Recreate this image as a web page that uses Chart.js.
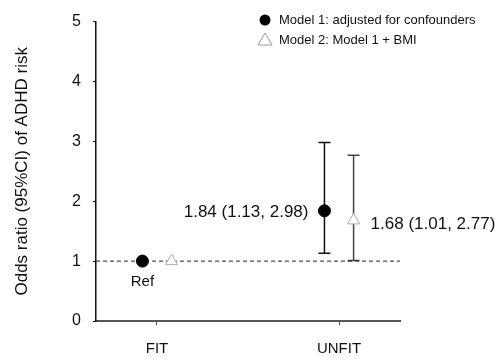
<!DOCTYPE html>
<html>
<head>
<meta charset="utf-8">
<script src="https://cdn.jsdelivr.net/npm/chart.js@4"></script>
<style>
  html, body { margin: 0; padding: 0; background: #fff; }
  #wrap { width: 499px; height: 364px; }
</style>
</head>
<body>
<div id="wrap"><canvas id="myChart"></canvas></div>
<script>
// Forest-style plot: odds ratios of ADHD risk by fitness group

const groups = ['FIT', 'UNFIT'];          // x-axis categories (at x = 1, 2)
const model1OR = [1, 1.84];               // Model 1 point estimates
const model1Low = [null, 1.13];           // Model 1 lower CI
const model1High = [null, 2.98];          // Model 1 upper CI
const model2OR = [1, 1.68];               // Model 2 point estimates
const model2Low = [null, 1.01];
const model2High = [null, 2.77];
const model1Text = ['Ref', '1.84 (1.13, 2.98)'];
const model2Text = ['', '1.68 (1.01, 2.77)'];
const yTicks = [0, 1, 2, 3, 4, 5];
const refValue = 1;

const xMin = 0.665, xMax = 2.335;         // room either side of the groups
const shift = 0.08;                       // dodge between the two models

const FONT = '"Liberation Sans", Arial, sans-serif';

const m1Points = groups.map((g, i) => ({ x: i + 1 - shift, y: model1OR[i] }));
const m2Points = groups.map((g, i) => ({ x: i + 1 + shift, y: model2OR[i] }));

// error bars + labels drawn with the chart's own scales
const errorBars = {
    id: 'errorBars',
    beforeDatasetsDraw(chart) {
        const { ctx, scales: { x, y } } = chart;
        const bars = [
            { pts: m1Points, lo: model1Low, hi: model1High, color: '#111' },
            { pts: m2Points, lo: model2Low, hi: model2High, color: '#444' }
        ];
        ctx.save();
        bars.forEach(b => {
            b.pts.forEach((p, i) => {
                if (b.lo[i] == null) return;
                const px = x.getPixelForValue(p.x);
                const yl = y.getPixelForValue(b.lo[i]);
                const yh = y.getPixelForValue(b.hi[i]);
                ctx.strokeStyle = b.color;
                ctx.lineWidth = 1.5;
                ctx.beginPath();
                ctx.moveTo(px, yl); ctx.lineTo(px, yh);
                ctx.moveTo(px - 6, yl); ctx.lineTo(px + 6, yl);
                ctx.moveTo(px - 6, yh); ctx.lineTo(px + 6, yh);
                ctx.stroke();
            });
        });
        ctx.restore();
    },
    afterDatasetsDraw(chart) {
        const { ctx, scales: { x, y } } = chart;
        ctx.save();
        ctx.fillStyle = '#111';
        // Ref label under the FIT point
        ctx.font = '15px ' + FONT;
        ctx.textAlign = 'center';
        ctx.textBaseline = 'middle';
        ctx.fillText(model1Text[0], x.getPixelForValue(m1Points[0].x), y.getPixelForValue(model1OR[0]) + 21);
        // UNFIT estimates
        ctx.font = '17px ' + FONT;
        ctx.textAlign = 'right';
        ctx.fillText(model1Text[1], x.getPixelForValue(m1Points[1].x) - 16, y.getPixelForValue(model1OR[1]) + 1);
        ctx.textAlign = 'left';
        ctx.fillText(model2Text[1], x.getPixelForValue(m2Points[1].x) + 17, y.getPixelForValue(model2OR[1]) + 4);
        ctx.restore();
    }
};

// legend in the top right corner
const cornerLegend = {
    id: 'cornerLegend',
    afterDraw(chart) {
        const ctx = chart.ctx;
        ctx.save();
        ctx.fillStyle = '#000';
        ctx.beginPath();
        ctx.arc(265, 20, 5.5, 0, Math.PI * 2);
        ctx.fill();
        ctx.strokeStyle = '#999';
        ctx.lineWidth = 1;
        ctx.beginPath();
        ctx.moveTo(265, 33); ctx.lineTo(272, 45); ctx.lineTo(258, 45); ctx.closePath();
        ctx.stroke();
        ctx.fillStyle = '#111';
        ctx.font = '13px ' + FONT;
        ctx.textBaseline = 'middle';
        ctx.fillText('Model 1: adjusted for confounders', 279, 20);
        ctx.fillText('Model 2: Model 1 + BMI', 279, 40);
        ctx.restore();
    }
};

new Chart(document.getElementById('myChart'), {
    type: 'scatter',
    data: {
        datasets: [
            {
                label: 'ref',
                type: 'line',
                data: [{ x: xMin, y: refValue }, { x: xMax, y: refValue }],
                borderColor: '#222',
                borderWidth: 1,
                borderDash: [4, 3],
                pointRadius: 0,
                order: 3
            },
            {
                label: 'Model 1: adjusted for confounders',
                data: m1Points,
                pointStyle: 'circle',
                pointRadius: 6,
                backgroundColor: '#000',
                borderColor: '#000',
                order: 1
            },
            {
                label: 'Model 2: Model 1 + BMI',
                data: m2Points,
                pointStyle: 'triangle',
                pointRadius: 7,
                backgroundColor: '#fff',
                borderColor: '#aaa',
                borderWidth: 1,
                order: 2
            }
        ]
    },
    options: {
        responsive: true,
        maintainAspectRatio: false,
        animation: false,
        layout: { padding: { top: 16, right: 99, bottom: 0, left: 0 } },
        plugins: { legend: { display: false }, tooltip: { enabled: false } },
        scales: {
            x: {
                type: 'linear',
                min: xMin,
                max: xMax,
                afterFit: s => { s.height = 43; },
                afterBuildTicks: s => { s.ticks = groups.map((g, i) => ({ value: i + 1 })); },
                grid: { drawOnChartArea: false, tickLength: 4, color: '#555' },
                border: { color: '#555', width: 2 },
                ticks: {
                    callback: v => groups[v - 1] || '',
                    color: '#111',
                    padding: 15,
                    maxRotation: 0,
                    font: { family: FONT, size: 15 }
                }
            },
            y: {
                min: 0,
                max: 5,
                afterFit: s => { s.width = 96; },
                afterBuildTicks: s => { s.ticks = yTicks.map(v => ({ value: v })); },
                grid: { drawOnChartArea: false, tickLength: 3, color: '#111' },
                border: { color: '#111', width: 1.5 },
                title: {
                    display: true,
                    text: 'Odds ratio (95%CI) of ADHD risk',
                    color: '#111',
                    padding: { top: 12, bottom: 0 },
                    font: { family: FONT, size: 17 }
                },
                ticks: {
                    color: '#111',
                    padding: 12,
                    font: { family: FONT, size: 16 }
                }
            }
        }
    },
    plugins: [errorBars, cornerLegend]
});
</script>
</body>
</html>
